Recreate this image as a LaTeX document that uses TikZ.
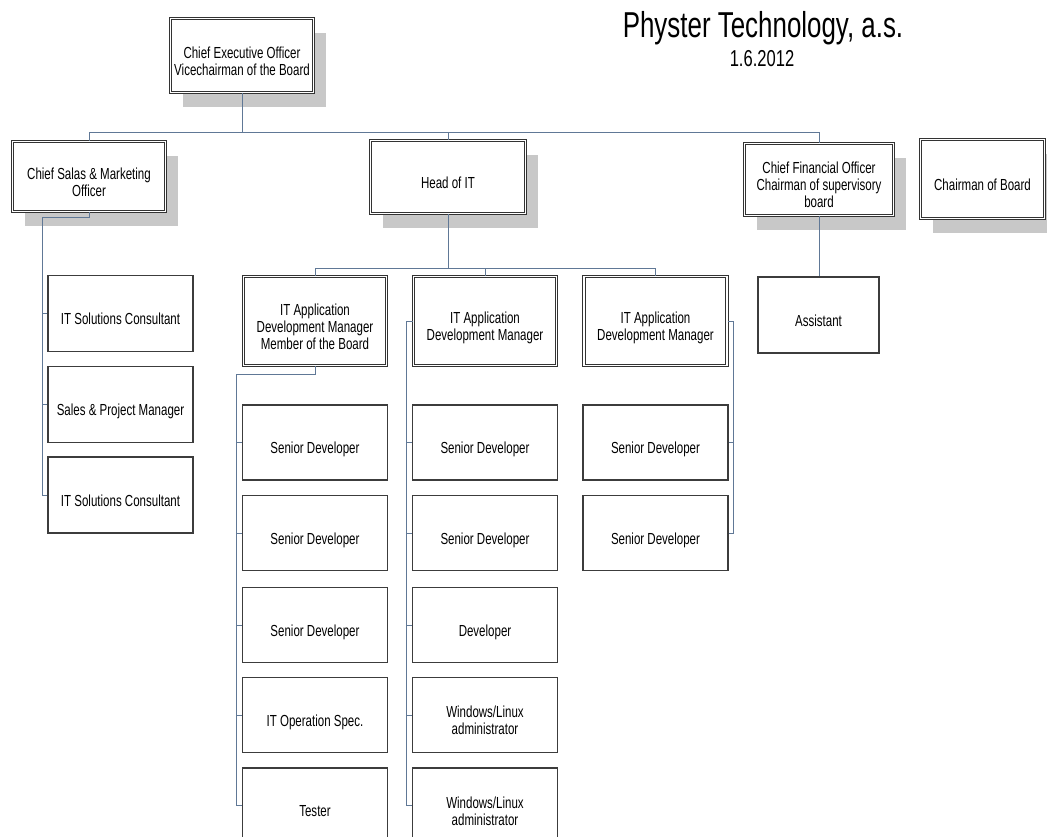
\documentclass[tikz,border=0pt]{standalone}
\usepackage{fontspec}
\setmainfont{Liberation Sans}[FakeStretch=0.72]
\usepackage{tikz}
\usetikzlibrary{shadows}
\definecolor{linkblue}{RGB}{96, 120, 150}
\definecolor{shadowgray}{RGB}{200, 200, 200}
\definecolor{boxline}{RGB}{60, 60, 60}
% text sits a little below the middle of each box
\newcommand{\unitlabel}[1]{\raisebox{-8pt}[\height][\depth]{\begin{tabular}{@{}c@{}}#1\end{tabular}}}
\tikzset{
  unit/.style = {draw = boxline, line width = 1.2pt, fill = white, inner sep = 2pt, font = \fontsize{16}{17}\selectfont},
  topunit/.style = {unit, draw = black!80, line width = 1pt, double = white, double distance = 1.6pt},
  shadowed/.style = {topunit, drop shadow = {shadow xshift = 12pt, shadow yshift = -15pt, fill = shadowgray, opacity = 1}},
  link/.style = {draw = linkblue, line width = 1pt}
}

\begin{document}
\begin{tikzpicture}[x = 1pt, y = -1pt]
\useasboundingbox (0, 0) rectangle (1047, 837);
\node [font = \fontsize{36}{40}\selectfont, anchor = base] (title) at (763, 38) {Physter Technology, a.s.};
\node [font = \fontsize{23}{26}\selectfont, anchor = base] (date) at (762, 67) {1.6.2012};
% board level
\node [shadowed, minimum width = 143pt, minimum height = 74pt] (ceo) at (242, 55.5) {\unitlabel{Chief Executive Officer\\Vicechairman of the Board}};
\node [shadowed, minimum width = 153pt, minimum height = 70pt] (cso) at (89, 176.5) {\unitlabel{Chief Salas \& Marketing\\Officer}};
\node [shadowed, minimum width = 155pt, minimum height = 73pt] (hit) at (448, 177) {\unitlabel{Head of IT}};
\node [shadowed, minimum width = 149pt, minimum height = 72pt] (cfo) at (819, 179.5) {\unitlabel{Chief Financial Officer\\Chairman of supervisory\\board}};
\node [shadowed, minimum width = 124pt, minimum height = 79pt] (chair) at (982.5, 179) {\unitlabel{Chairman of Board}};
% sales
\node [unit, minimum width = 145pt, minimum height = 76pt] (s1) at (120.5, 313.5) {\unitlabel{IT Solutions Consultant}};
\node [unit, minimum width = 145pt, minimum height = 76pt] (s2) at (120.5, 404.5) {\unitlabel{Sales \& Project Manager}};
\node [unit, minimum width = 145pt, minimum height = 76pt] (s3) at (120.5, 495) {\unitlabel{IT Solutions Consultant}};
% managers
\node [topunit, minimum width = 143pt, minimum height = 89pt] (mgr1) at (315, 321) {\unitlabel{IT Application\\Development Manager\\Member of the Board}};
\node [topunit, minimum width = 143pt, minimum height = 89pt] (mgr2) at (485, 321) {\unitlabel{IT Application\\Development Manager}};
\node [topunit, minimum width = 143pt, minimum height = 89pt] (mgr3) at (655.5, 321) {\unitlabel{IT Application\\Development Manager}};
\node [unit, minimum width = 121pt, minimum height = 76pt] (asst) at (818.5, 315) {\unitlabel{Assistant}};
% developers
\node [unit, minimum width = 145pt, minimum height = 75pt] (a1) at (315, 442.5) {\unitlabel{Senior Developer}};
\node [unit, minimum width = 145pt, minimum height = 75pt] (a2) at (315, 533) {\unitlabel{Senior Developer}};
\node [unit, minimum width = 145pt, minimum height = 75pt] (a3) at (315, 625) {\unitlabel{Senior Developer}};
\node [unit, minimum width = 145pt, minimum height = 75pt] (a4) at (315, 715) {\unitlabel{IT Operation Spec.}};
\node [unit, minimum width = 145pt, minimum height = 75pt] (a5) at (315, 805.5) {\unitlabel{Tester}};
\node [unit, minimum width = 145pt, minimum height = 75pt] (b1) at (485, 442.5) {\unitlabel{Senior Developer}};
\node [unit, minimum width = 145pt, minimum height = 75pt] (b2) at (485, 533) {\unitlabel{Senior Developer}};
\node [unit, minimum width = 145pt, minimum height = 75pt] (b3) at (485, 625) {\unitlabel{Developer}};
\node [unit, minimum width = 145pt, minimum height = 75pt] (b4) at (485, 715) {\unitlabel{Windows/Linux\\administrator}};
\node [unit, minimum width = 145pt, minimum height = 75pt] (b5) at (485, 805.5) {\unitlabel{Windows/Linux\\administrator}};
\node [unit, minimum width = 145pt, minimum height = 75pt] (c1) at (655.5, 442.5) {\unitlabel{Senior Developer}};
\node [unit, minimum width = 145pt, minimum height = 75pt] (c2) at (655.5, 533) {\unitlabel{Senior Developer}};
% connectors
\coordinate (topbus) at (0, 133);
\coordinate (itbus) at (0, 268);
\coordinate (salesknee) at (42, 218);
\coordinate (devknee1) at (236, 374);
\coordinate (devknee2) at (406, 0);
\coordinate (devknee3) at (733, 0);
\draw [link] (ceo.south) -- (ceo.south |- topbus);
\draw [link] (cso.north) |- (cfo.north |- topbus) -- (cfo.north);
\draw [link] (hit.north) -- (hit.north |- topbus);
\draw [link] (hit.south) -- (hit.south |- itbus);
\draw [link] (mgr1.north) |- (mgr3.north |- itbus) -- (mgr3.north);
\draw [link] (mgr2.north) -- (mgr2.north |- itbus);
\draw [link] (cfo.south) -- (cfo.south |- asst.north);
\draw [link] (cso.south) |- (salesknee) |- (s3.west);
\foreach \n in {s1, s2} \draw [link] (salesknee |- \n.west) -- (\n.west);
\draw [link] (mgr1.south) |- (devknee1) |- (a5.west);
\foreach \n in {a1, a2, a3, a4} \draw [link] (devknee1 |- \n.west) -- (\n.west);
\draw [link] (mgr2.west) -| (devknee2 |- b5.west) -- (b5.west);
\foreach \n in {b1, b2, b3, b4} \draw [link] (devknee2 |- \n.west) -- (\n.west);
\draw [link] (mgr3.east) -| (devknee3 |- c2.east) -- (c2.east);
\draw [link] (devknee3 |- c1.east) -- (c1.east);
\end{tikzpicture}
\end{document}
